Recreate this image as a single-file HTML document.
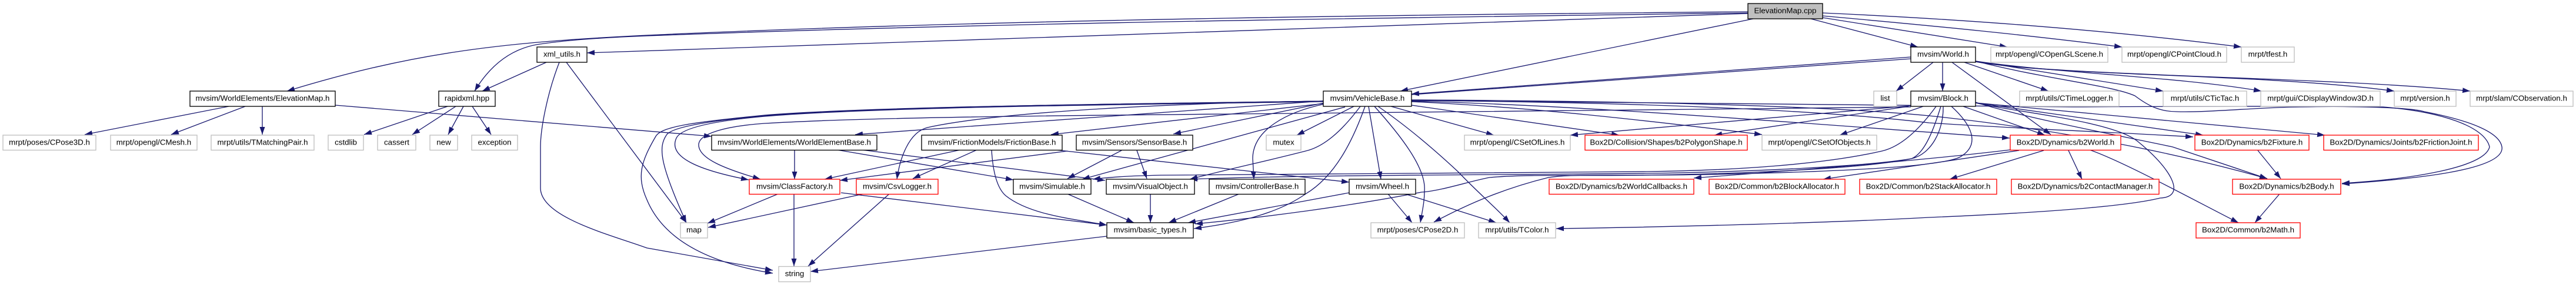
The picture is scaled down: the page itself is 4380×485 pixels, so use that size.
<!DOCTYPE html>
<html><head><meta charset="utf-8"><style>
html,body{margin:0;padding:0;background:#fff;width:4380px;height:485px;overflow:hidden}
svg{display:block}
text{font-family:"Liberation Sans",sans-serif;font-size:13.33px;text-anchor:middle;fill:#000}
.e path{fill:none;stroke:#191970;stroke-width:1.33;marker-end:url(#a)}
rect{fill:#fff;stroke-width:1.33}
.b{stroke:#000}.g{stroke:#bfbfbf}.r{stroke:#f00}
</style></head><body>
<svg width="4380" height="485" viewBox="0 0 4380 485" xmlns="http://www.w3.org/2000/svg">
<defs><marker id="a" markerUnits="userSpaceOnUse" markerWidth="15" markerHeight="11" refX="13" refY="4.8" orient="auto"><path d="M0,0.3L13,4.8L0,9.3z" fill="#191970"/></marker></defs>
<g class="e">
<path d="M2972,23L998,90"/>
<path d="M2972,20C2500,24 1700,32 1100,60C850,72 700,90 488,155"/>
<path d="M2972,22C2400,30 1700,38 1100,61C1000,65 950,70 912,76C880,82 840,100 807,155"/>
<path d="M2981,32L2381,155"/>
<path d="M3079,32L3261,80"/>
<path d="M3099,30L3413,80"/>
<path d="M3099,27C3300,45 3450,60 3608,80"/>
<path d="M3099,22C3300,31 3550,47 3811,80"/>
<path d="M761,181L619,229"/>
<path d="M775,181L701,229"/>
<path d="M788,181L762,229"/>
<path d="M803,181L835,229"/>
<path d="M929,106L820,155"/>
<path d="M963,106L1167,379"/>
<path d="M951,106C930,160 919,220 919,250L919,320C919,370 1040,400 1100,422L1314,460"/>
<path d="M389,181L144,229"/>
<path d="M417,181L291,229"/>
<path d="M446,181L446,229"/>
<path d="M570,179L1210,232"/>
<path d="M2250,172C2000,176 1500,180 1300,196C1180,208 1125,215 1115,232C1090,275 1082,300 1100,340C1125,400 1190,445 1314,465"/>
<path d="M2250,172C2000,176 1500,180 1300,197C1190,207 1140,218 1133,230C1120,250 1120,275 1167,379"/>
<path d="M2250,173C2000,177 1500,181 1300,198C1200,207 1157,220 1150,235C1135,268 1190,290 1273,306"/>
<path d="M3249,182C2900,186 2500,190 2200,193C1900,196 1500,198 1300,210C1230,215 1190,228 1188,245C1186,270 1235,288 1293,305"/>
<path d="M3249,100L1454,229"/>
<path d="M2250,172C2000,175 1700,190 1577,217C1545,225 1530,270 1525,305"/>
<path d="M2252,176L1787,229"/>
<path d="M2252,175L1995,228"/>
<path d="M2287,182L1840,305"/>
<path d="M2313,181C2280,225 2250,250 2220,257C2150,275 2100,285 2023,305"/>
<path d="M2252,177C2190,190 2130,220 2130,270L2132,305"/>
<path d="M2302,181L2205,230"/>
<path d="M2321,181C2300,240 2270,300 2220,330C2170,365 2100,380 2030,389"/>
<path d="M2327,181L2348,305"/>
<path d="M2337,181C2390,240 2425,290 2422,325C2422,345 2418,360 2415,379"/>
<path d="M2343,181C2400,220 2450,265 2480,293C2510,325 2540,350 2567,379"/>
<path d="M2365,181L2540,230"/>
<path d="M2400,179L2753,230"/>
<path d="M2400,173C2600,182 2800,205 2996,229"/>
<path d="M2400,172C2700,180 3000,205 3417,235"/>
<path d="M2400,171C2800,174 3100,188 3280,209C3450,220 3600,225 3729,233"/>
<path d="M2400,170C2800,172 3100,180 3280,197C3500,220 3700,260 3855,304"/>
<path d="M2400,171C2800,175 3200,182 3525,182C3700,181 3900,180 4052,182C4150,190 4225,215 4233,250C4225,285 4100,305 3982,312"/>
<path d="M3249,97L2400,160"/>
<path d="M3303,106L3303,155"/>
<path d="M3287,106L3224,155"/>
<path d="M3340,106L3483,155"/>
<path d="M3359,104L3678,155"/>
<path d="M3359,104C3500,125 3700,130 3845,155"/>
<path d="M3359,105C3500,130 3850,125 4071,155"/>
<path d="M3359,105C3500,130 3950,130 4200,155"/>
<path d="M3319,106L3487,229"/>
<path d="M3359,104C3480,135 3590,145 3630,163C3650,178 3670,190 3701,190C3750,192 3850,182 3911,182C4000,180 4100,183 4122,190C4200,205 4250,225 4254,250C4260,290 4100,305 3982,313"/>
<path d="M3249,180L2670,230"/>
<path d="M3245,181L2915,230"/>
<path d="M3270,181L3128,230"/>
<path d="M3338,181L3477,230"/>
<path d="M3292,181C3260,225 3230,250 3200,257C3100,280 2950,290 2800,292C2500,296 2200,297 2000,298C1950,298 1900,300 1858,305"/>
<path d="M3300,181C3285,230 3270,262 3250,270C3180,282 3000,292 2800,295C2500,298 2200,298 2023,305"/>
<path d="M3304,181C3305,220 3285,262 3250,270C3180,285 3000,295 2800,298C2700,300 2600,296 2533,302C2500,308 2450,325 2417,327C2300,350 2150,370 2032,381"/>
<path d="M3318,181C3350,210 3370,245 3333,267C3300,285 3100,293 2900,297C2750,300 2680,295 2633,302C2560,320 2500,345 2438,378"/>
<path d="M3359,175L3746,230"/>
<path d="M3359,175L3953,230"/>
<path d="M3359,175C3420,190 3590,205 3634,240C3690,285 3720,335 3673,337C3600,355 3400,365 3280,370C3100,380 2800,387 2646,389"/>
<path d="M3359,174C3440,200 3600,230 3694,250L3855,304"/>
<path d="M3839,256L3878,304"/>
<path d="M3418,255C3250,275 3050,290 2880,303"/>
<path d="M3433,256L3100,305"/>
<path d="M3475,256L3315,305"/>
<path d="M3517,256L3540,305"/>
<path d="M3553,255C3610,275 3720,335 3806,379"/>
<path d="M3876,330L3834,379"/>
<path d="M1351,255L1351,305"/>
<path d="M1423,255L1723,306"/>
<path d="M1465,255L1879,307"/>
<path d="M1633,255L1402,305"/>
<path d="M1661,255L1552,304"/>
<path d="M1686,255C1688,290 1695,320 1710,333C1750,365 1820,372 1882,383"/>
<path d="M1794,255L2294,310"/>
<path d="M1815,257L1428,307"/>
<path d="M1907,256L1815,304"/>
<path d="M1933,256L1950,304"/>
<path d="M1323,330L1203,380"/>
<path d="M1468,330L1204,387"/>
<path d="M1350,330L1350,453"/>
<path d="M1512,330L1374,453"/>
<path d="M1430,328L1882,383"/>
<path d="M1882,402L1378,462"/>
<path d="M1815,330L1928,379"/>
<path d="M1956,330L1956,379"/>
<path d="M2107,330L1987,379"/>
<path d="M2294,328L2020,379"/>
<path d="M2360,330L2401,379"/>
<path d="M2389,330L2544,379"/>
</g>
<g>
<rect x="2972" y="6" width="127" height="26" style="fill:#bfbfbf" class="b"/><text x="3035.5" y="22.6">ElevationMap.cpp</text>
<rect x="913" y="80" width="85" height="26" class="b"/><text x="955.5" y="96.6">xml_utils.h</text>
<rect x="3249" y="80" width="110" height="26" class="b"/><text x="3304" y="96.6">mvsim/World.h</text>
<rect x="3385" y="80" width="199" height="26" class="g"/><text x="3484.5" y="96.6">mrpt/opengl/COpenGLScene.h</text>
<rect x="3608" y="80" width="178" height="26" class="g"/><text x="3697" y="96.6">mrpt/opengl/CPointCloud.h</text>
<rect x="3811" y="80" width="90" height="26" class="g"/><text x="3856" y="96.6">mrpt/tfest.h</text>
<rect x="323" y="155" width="247" height="26" class="b"/><text x="446.5" y="171.6">mvsim/WorldElements/ElevationMap.h</text>
<rect x="746" y="155" width="96" height="26" class="b"/><text x="794" y="171.6">rapidxml.hpp</text>
<rect x="2250" y="155" width="150" height="26" class="b"/><text x="2325" y="171.6">mvsim/VehicleBase.h</text>
<rect x="3186" y="155" width="39" height="26" class="g"/><text x="3205.5" y="171.6">list</text>
<rect x="3249" y="155" width="110" height="26" class="b"/><text x="3304" y="171.6">mvsim/Block.h</text>
<rect x="3434" y="155" width="169" height="26" class="g"/><text x="3518.5" y="171.6">mrpt/utils/CTimeLogger.h</text>
<rect x="3678" y="155" width="142" height="26" class="g"/><text x="3749" y="171.6">mrpt/utils/CTicTac.h</text>
<rect x="3844" y="155" width="203" height="26" class="g"/><text x="3945.5" y="171.6">mrpt/gui/CDisplayWindow3D.h</text>
<rect x="4071" y="155" width="105" height="26" class="g"/><text x="4123.5" y="171.6">mrpt/version.h</text>
<rect x="4200" y="155" width="175" height="26" class="g"/><text x="4287.5" y="171.6">mrpt/slam/CObservation.h</text>
<rect x="5" y="230" width="158" height="25.5" class="g"/><text x="84" y="246.3">mrpt/poses/CPose3D.h</text>
<rect x="188" y="230" width="147" height="25.5" class="g"/><text x="261.5" y="246.3">mrpt/opengl/CMesh.h</text>
<rect x="359" y="230" width="175" height="25.5" class="g"/><text x="446.5" y="246.3">mrpt/utils/TMatchingPair.h</text>
<rect x="558" y="230" width="60" height="25.5" class="g"/><text x="588" y="246.3">cstdlib</text>
<rect x="642" y="230" width="65" height="25.5" class="g"/><text x="674.5" y="246.3">cassert</text>
<rect x="731" y="230" width="47" height="25.5" class="g"/><text x="754.5" y="246.3">new</text>
<rect x="802" y="230" width="78" height="25.5" class="g"/><text x="841" y="246.3">exception</text>
<rect x="1210" y="230" width="281" height="25.5" class="b"/><text x="1350.5" y="246.3">mvsim/WorldElements/WorldElementBase.h</text>
<rect x="1567" y="230" width="239" height="25.5" class="b"/><text x="1686.5" y="246.3">mvsim/FrictionModels/FrictionBase.h</text>
<rect x="1830" y="230" width="198" height="25.5" class="b"/><text x="1929" y="246.3">mvsim/Sensors/SensorBase.h</text>
<rect x="2153" y="230" width="59" height="25.5" class="g"/><text x="2182.5" y="246.3">mutex</text>
<rect x="2490" y="230" width="180" height="25.5" class="g"/><text x="2580" y="246.3">mrpt/opengl/CSetOfLines.h</text>
<rect x="2695" y="230" width="276" height="25.5" class="r"/><text x="2833" y="246.3">Box2D/Collision/Shapes/b2PolygonShape.h</text>
<rect x="2996" y="230" width="195" height="25.5" class="g"/><text x="3093.5" y="246.3">mrpt/opengl/CSetOfObjects.h</text>
<rect x="3418" y="230" width="188" height="25.5" class="r"/><text x="3512" y="246.3">Box2D/Dynamics/b2World.h</text>
<rect x="3732" y="230" width="194" height="25.5" class="r"/><text x="3829" y="246.3">Box2D/Dynamics/b2Fixture.h</text>
<rect x="3951" y="230" width="263" height="25.5" class="r"/><text x="4082.5" y="246.3">Box2D/Dynamics/Joints/b2FrictionJoint.h</text>
<rect x="1274" y="305" width="154" height="25.5" class="r"/><text x="1351" y="321.3">mvsim/ClassFactory.h</text>
<rect x="1456" y="305" width="139" height="25.5" class="r"/><text x="1525.5" y="321.3">mvsim/CsvLogger.h</text>
<rect x="1723" y="305" width="132" height="25.5" class="b"/><text x="1789" y="321.3">mvsim/Simulable.h</text>
<rect x="1881" y="305" width="150" height="25.5" class="b"/><text x="1956" y="321.3">mvsim/VisualObject.h</text>
<rect x="2056" y="305" width="163" height="25.5" class="b"/><text x="2137.5" y="321.3">mvsim/ControllerBase.h</text>
<rect x="2294" y="305" width="113" height="25.5" class="b"/><text x="2350.5" y="321.3">mvsim/Wheel.h</text>
<rect x="2634" y="305" width="246" height="25.5" class="r"/><text x="2757" y="321.3">Box2D/Dynamics/b2WorldCallbacks.h</text>
<rect x="2906" y="305" width="231" height="25.5" class="r"/><text x="3021.5" y="321.3">Box2D/Common/b2BlockAllocator.h</text>
<rect x="3162" y="305" width="233" height="25.5" class="r"/><text x="3278.5" y="321.3">Box2D/Common/b2StackAllocator.h</text>
<rect x="3420" y="305" width="251" height="25.5" class="r"/><text x="3545.5" y="321.3">Box2D/Dynamics/b2ContactManager.h</text>
<rect x="3796" y="305" width="184" height="25.5" class="r"/><text x="3888" y="321.3">Box2D/Dynamics/b2Body.h</text>
<rect x="1157" y="379" width="46" height="26" class="g"/><text x="1180" y="395.6">map</text>
<rect x="1882" y="379" width="147" height="26" class="b"/><text x="1955.5" y="395.6">mvsim/basic_types.h</text>
<rect x="2331" y="379" width="159" height="26" class="g"/><text x="2410.5" y="395.6">mrpt/poses/CPose2D.h</text>
<rect x="2514" y="379" width="131" height="26" class="g"/><text x="2579.5" y="395.6">mrpt/utils/TColor.h</text>
<rect x="3734" y="379" width="177" height="26" class="r"/><text x="3822.5" y="395.6">Box2D/Common/b2Math.h</text>
<rect x="1324" y="453.5" width="54" height="26" class="g"/><text x="1351" y="470">string</text>
</g>
</svg>
</body></html>
